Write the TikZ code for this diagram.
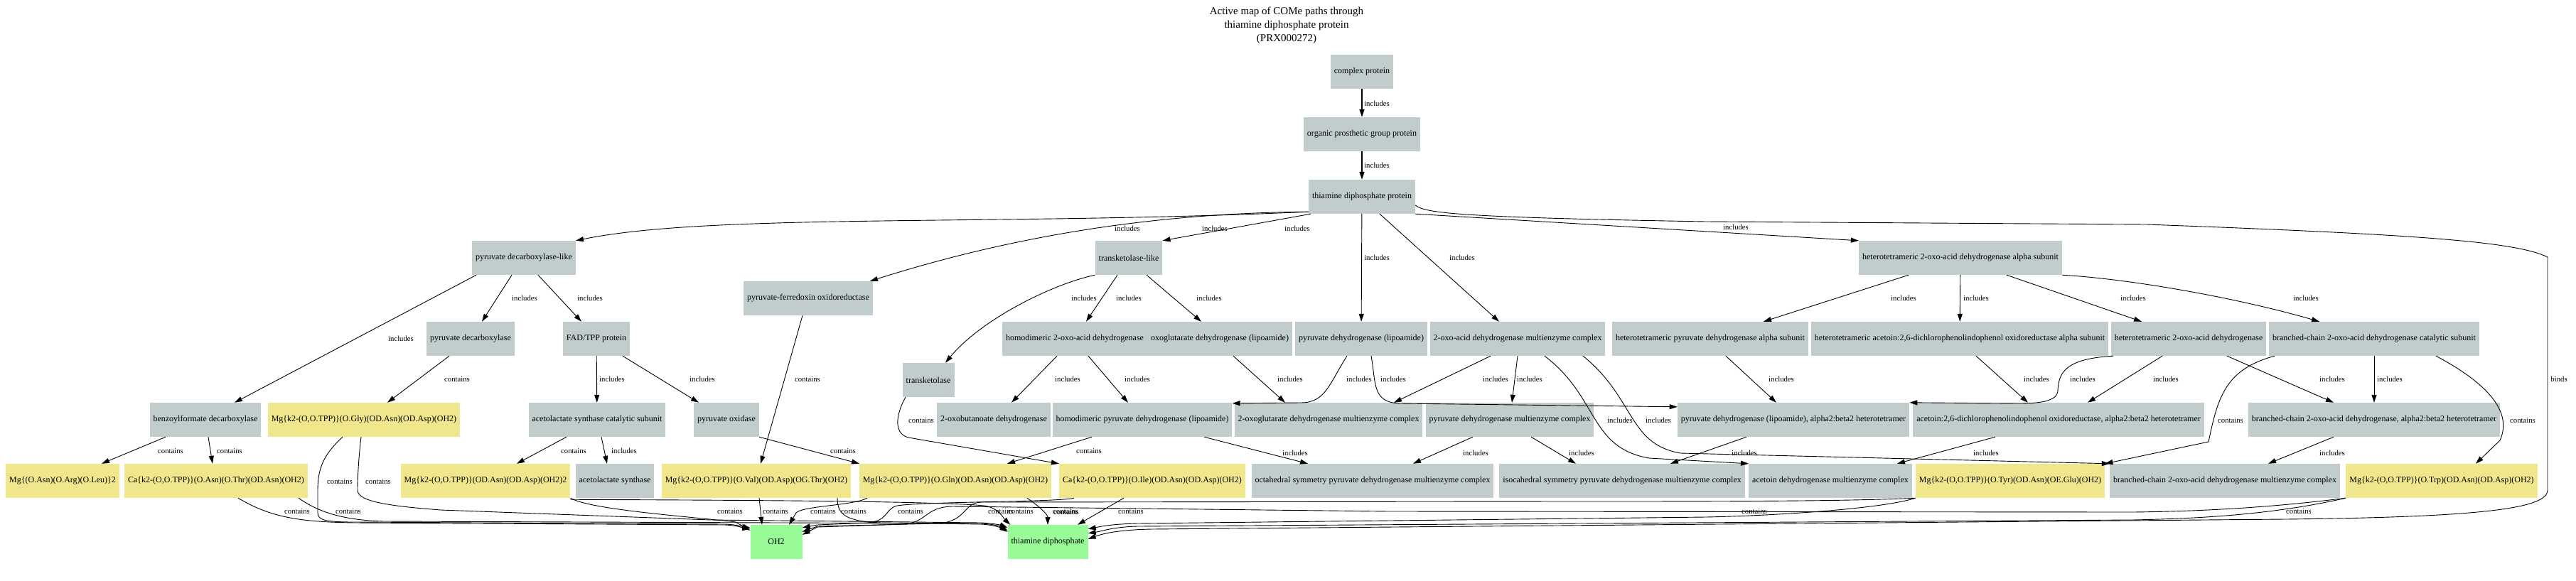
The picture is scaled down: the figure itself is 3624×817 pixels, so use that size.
\documentclass[tikz,border=0pt]{standalone}
\usepackage{fontspec}
\setmainfont{Liberation Serif}
\usetikzlibrary{arrows.meta}
\definecolor{protgray}{HTML}{C1CDCD}
\definecolor{sitekhaki}{HTML}{F0E68C}
\definecolor{ligreen}{HTML}{98FB98}

\begin{document}
\begin{tikzpicture}[x=1pt, y=-1pt,
  prot/.style = {fill=protgray, minimum height=48pt, minimum width=73pt, inner xsep=5pt, font=\fontsize{12}{14}\selectfont},
  site/.style = {prot, fill=sitekhaki},
  lig/.style = {prot, fill=ligreen},
  inc/.style = {-{Triangle[length=11pt,width=7pt]}, line width=0.9pt},
  lbl/.style = {font=\fontsize{10.7}{12}\selectfont, inner sep=0pt}]

\useasboundingbox (0,0) rectangle (3624,817);

\node[align=center, font=\fontsize{15}{19}\selectfont] (title) at (1810,36) {Active map of COMe paths through\\thiamine diphosphate protein\\(PRX000272)};

\node[prot] (cp) at (1916,101) {complex protein};
\node[prot] (opgp) at (1916,189) {organic prosthetic group protein};
\node[prot] (tdpp) at (1916,277) {thiamine diphosphate protein};

\node[prot] (pdcl) at (737,363) {pyruvate decarboxylase-like};
\node[prot] (tkl) at (1588,363) {transketolase-like};
\node[prot] (hoda) at (2758,363) {heterotetrameric 2-oxo-acid dehydrogenase alpha subunit};
\node[prot] (pfor) at (1137,420) {pyruvate-ferredoxin oxidoreductase};

\node[prot] (pdc) at (662,477) {pyruvate decarboxylase};
\node[prot] (fad) at (839,477) {FAD/TPP protein};
\node[prot] (hoad) at (1512,477) {homodimeric 2-oxo-acid dehydrogenase};
\node[prot] (ogdl) at (1716,477) {oxoglutarate dehydrogenase (lipoamide)};
\node[prot] (pdhl) at (1915,477) {pyruvate dehydrogenase (lipoamide)};
\node[prot] (oamc) at (2135,477) {2-oxo-acid dehydrogenase multienzyme complex};
\node[prot] (hpda) at (2406,477) {heterotetrameric pyruvate dehydrogenase alpha subunit};
\node[prot] (haca) at (2757,477) {heterotetrameric acetoin:2,6-dichlorophenolindophenol oxidoreductase alpha subunit};
\node[prot] (hod) at (3079,477) {heterotetrameric 2-oxo-acid dehydrogenase};
\node[prot] (bccs) at (3340,477) {branched-chain 2-oxo-acid dehydrogenase catalytic subunit};
\node[prot] (tk) at (1306,535) {transketolase};

\node[prot] (bfd) at (289,591) {benzoylformate decarboxylase};
\node[site] (mggly) at (512,591) {Mg\{k2-(O,O.TPP)\}(O.Gly)(OD.Asn)(OD.Asp)(OH2)};
\node[prot] (alscs) at (840,591) {acetolactate synthase catalytic subunit};
\node[prot] (pox) at (1022,591) {pyruvate oxidase};
\node[prot] (obdh) at (1398,591) {2-oxobutanoate dehydrogenase};
\node[prot] (hpdh) at (1607,591) {homodimeric pyruvate dehydrogenase (lipoamide)};
\node[prot] (ogmc) at (1869,591) {2-oxoglutarate dehydrogenase multienzyme complex};
\node[prot] (pdmc) at (2124,591) {pyruvate dehydrogenase multienzyme complex};
\node[prot] (pdab) at (2523,591) {pyruvate dehydrogenase (lipoamide), alpha2:beta2 heterotetramer};
\node[prot] (acab) at (2896,591) {acetoin:2,6-dichlorophenolindophenol oxidoreductase, alpha2:beta2 heterotetramer};
\node[prot] (bcab) at (3340,591) {branched-chain 2-oxo-acid dehydrogenase, alpha2:beta2 heterotetramer};

\node[site] (mgaal) at (88,677) {Mg\{(O.Asn)(O.Arg)(O.Leu)\}2};
\node[site] (cathr) at (304,677) {Ca\{k2-(O,O.TPP)\}(O.Asn)(O.Thr)(OD.Asn)(OH2)};
\node[site] (mgoh) at (683,677) {Mg\{k2-(O,O.TPP)\}(OD.Asn)(OD.Asp)(OH2)2};
\node[prot] (als) at (865,677) {acetolactate synthase};
\node[site] (mgval) at (1064,677) {Mg\{k2-(O,O.TPP)\}(O.Val)(OD.Asp)(OG.Thr)(OH2)};
\node[site] (mggln) at (1344,677) {Mg\{k2-(O,O.TPP)\}(O.Gln)(OD.Asn)(OD.Asp)(OH2)};
\node[site] (caile) at (1621,677) {Ca\{k2-(O,O.TPP)\}(O.Ile)(OD.Asn)(OD.Asp)(OH2)};
\node[prot] (ochp) at (1931,677) {octahedral symmetry pyruvate dehydrogenase multienzyme complex};
\node[prot] (icop) at (2282,677) {isocahedral symmetry pyruvate dehydrogenase multienzyme complex};
\node[prot] (adhmc) at (2575,677) {acetoin dehydrogenase multienzyme complex};
\node[site] (mgtyr) at (2828,677) {Mg\{k2-(O,O.TPP)\}(O.Tyr)(OD.Asn)(OE.Glu)(OH2)};
\node[prot] (bcmc) at (3130,677) {branched-chain 2-oxo-acid dehydrogenase multienzyme complex};
\node[site] (mgtrp) at (3435,677) {Mg\{k2-(O,O.TPP)\}(O.Trp)(OD.Asn)(OD.Asp)(OH2)};

\node[lig] (oh2) at (1092,763) {OH2};
\node[lig] (tdp) at (1474,763) {thiamine diphosphate};

\draw[inc, line width=1.5pt] (cp) -- (opgp) node[lbl] at (1937,146) {includes};
\draw[inc, line width=1.5pt] (opgp) -- (tdpp) node[lbl] at (1937,233) {includes};

\draw[inc] ([yshift=3pt]tdpp.south west) .. controls (1400,318) and (1000,300) .. (pdcl.north east) node[lbl] at (1825,322) {includes};
\draw[inc] ([yshift=3pt]tdpp.south west) .. controls (1600,300) and (1400,340) .. ([xshift=-4pt]pfor.north east) node[lbl] at (1586,322) {includes};
\draw[inc] ([xshift=3pt]tdpp.south west) -- (tkl.north east) node[lbl] at (1709,322) {includes};
\draw[inc] (tdpp) -- (pdhl) node[lbl] at (1937,363) {includes};
\draw[inc] ([xshift=25pt]tdpp.south) -- ([xshift=-26pt]oamc.north) node[lbl] at (2057,363) {includes};
\draw[inc] (tdpp.south east) -- (hoda.north west) node[lbl] at (2442,320) {includes};
\draw[inc] ([yshift=-12pt]tdpp.east) .. controls (2005,300) and (2050,306) .. (2400,312) -- (3020,316) .. controls (3400,330) and (3540,340) .. (3584,362) -- (3584,690) .. controls (3584,715) and (3500,728) .. (3215,731) -- (1620,745) .. controls (1570,746) and (1550,752) .. ([yshift=-20pt]tdp.north east) node[lbl, anchor=west] at (3588,534) {binds};

\draw[inc] ([xshift=-67pt]pdcl.south) -- ([xshift=41pt]bfd.north) node[lbl] at (564,477) {includes};
\draw[inc] ([xshift=-17pt]pdcl.south) -- ([xshift=16pt]pdc.north) node[lbl] at (738,420) {includes};
\draw[inc] ([xshift=20pt]pdcl.south) -- ([xshift=-21pt]fad.north) node[lbl] at (830,420) {includes};
\draw[inc] ([xshift=-30pt]pdc.south) -- ([xshift=33pt]mggly.north) node[lbl] at (643,534) {contains};
\draw[inc] ([xshift=-56pt]bfd.south) -- ([xshift=55pt]mgaal.north) node[lbl] at (240,635) {contains};
\draw[inc] ([xshift=4pt]bfd.south) -- ([xshift=-5pt]cathr.north) node[lbl] at (323,635) {contains};
\draw[inc] (fad) -- (alscs) node[lbl] at (861,534) {includes};
\draw[inc] ([xshift=37pt]fad.south) -- ([xshift=-39pt]pox.north) node[lbl] at (988,534) {includes};
\draw[inc] ([xshift=-43pt]alscs.south) -- ([xshift=44pt]mgoh.north) node[lbl] at (807,635) {contains};
\draw[inc] ([xshift=6pt]alscs.south) -- ([xshift=-11pt]als.north) node[lbl] at (878,635) {includes};
\draw[inc] (pox.south east) -- ([xshift=-135pt]mggln.north) node[lbl] at (1186,635) {contains};
\draw[inc] ([xshift=-8pt]pfor.south) -- ([xshift=6pt]mgval.north) node[lbl] at (1136,534) {contains};

\draw[inc] (tkl.south west) .. controls (1480,400) and (1380,450) .. ([xshift=24pt]tk.north) node[lbl] at (1525,420) {includes};
\draw[inc] ([xshift=-16pt]tkl.south) -- ([xshift=16pt]hoad.north) node[lbl] at (1588,420) {includes};
\draw[inc] ([xshift=25pt]tkl.south) -- ([xshift=-26pt]ogdl.north) node[lbl] at (1701,420) {includes};
\draw[inc] ([xshift=-32pt]tk.south) .. controls (1262,580) and (1255,610) .. (1278,616) -- (caile.north west) node[lbl] at (1296,592) {contains};
\draw[inc] ([xshift=-25pt]hoad.south) -- ([xshift=25pt]obdh.north) node[lbl] at (1502,534) {includes};
\draw[inc] ([xshift=19pt]hoad.south) -- ([xshift=-20pt]hpdh.north) node[lbl] at (1600,534) {includes};
\draw[inc] ([xshift=19pt]ogdl.south) -- ([xshift=-61pt]ogmc.north) node[lbl] at (1815,534) {includes};
\draw[inc] ([xshift=-20pt]pdhl.south) .. controls (1870,540) and (1865,567) .. (1830,567) -- ([yshift=-1pt]hpdh.north east) node[lbl] at (1912,534) {includes};
\draw[inc] ([xshift=14pt]pdhl.south) .. controls (1936,540) and (1930,567) .. (1970,568) -- ([yshift=-6pt]pdab.north west) node[lbl] at (1960,534) {includes};

\draw[inc] ([xshift=-38pt]oamc.south) -- ([xshift=92pt]ogmc.north) node[lbl] at (2104,534) {includes};
\draw[inc] (oamc.south) -- ([xshift=3pt]pdmc.north) node[lbl] at (2152,534) {includes};
\draw[inc] ([xshift=38pt]oamc.south) .. controls (2250,560) and (2235,630) .. (2320,645) -- (adhmc.north west) node[lbl] at (2279,592) {includes};
\draw[inc] ([xshift=92pt]oamc.south) .. controls (2300,560) and (2290,625) .. (2364,638) -- (bcmc.north west) node[lbl] at (2333,592) {includes};

\draw[inc] ([xshift=-71pt]hpdh.south) -- ([xshift=73pt]mggln.north) node[lbl] at (1532,635) {contains};
\draw[inc] ([xshift=87pt]hpdh.south) -- ([xshift=-91pt]ochp.north) node[lbl] at (1822,638) {includes};
\draw[inc] ([xshift=-52pt]pdmc.south) -- ([xshift=57pt]ochp.north) node[lbl] at (2076,638) {includes};
\draw[inc] ([xshift=30pt]pdmc.south) -- ([xshift=-65pt]icop.north) node[lbl] at (2225,638) {includes};
\draw[inc] ([xshift=-66pt]pdab.south) -- ([xshift=68pt]icop.north) node[lbl] at (2454,638) {includes};
\draw[inc] ([xshift=22pt]hpda.south) -- ([xshift=-24pt]pdab.north) node[lbl] at (2506,534) {includes};

\draw[inc] ([xshift=-73pt]hoda.south) -- ([xshift=75pt]hpda.north) node[lbl] at (2678,420) {includes};
\draw[inc] (hoda) -- (haca) node[lbl] at (2780,420) {includes};
\draw[inc] ([xshift=65pt]hoda.south) -- ([xshift=-66pt]hod.north) node[lbl] at (3001,420) {includes};
\draw[inc] (hoda.south east) .. controls (3000,393) and (3150,420) .. ([xshift=-77pt]bccs.north) node[lbl] at (3244,420) {includes};
\draw[inc] ([xshift=23pt]haca.south) -- ([xshift=-43pt]acab.north) node[lbl] at (2865,534) {includes};
\draw[inc] ([xshift=-106pt]hod.south) .. controls (2905,505) and (2896,525) .. (2895,550) .. controls (2894,565) and (2870,568) .. (2840,568) -- (pdab.north east) node[lbl] at (2930,534) {includes};
\draw[inc] ([xshift=-37pt]hod.south) -- ([xshift=41pt]acab.north) node[lbl] at (3047,534) {includes};
\draw[inc] ([xshift=54pt]hod.south) -- ([xshift=-57pt]bcab.north) node[lbl] at (3281,534) {includes};
\draw[inc] (bccs) -- (bcab) node[lbl] at (3362,534) {includes};
\draw[inc] ([xshift=87pt]bccs.south) .. controls (3500,540) and (3535,580) .. (3517,620) -- ([xshift=48pt]mgtrp.north) node[lbl] at (3549,592) {contains};
\draw[inc] ([xshift=-140pt]bccs.south) .. controls (3130,520) and (3120,560) .. (3107,622) -- (mgtyr.north east) node[lbl] at (3138,592) {contains};
\draw[inc] ([xshift=-57pt]bcab.south) -- ([xshift=61pt]bcmc.north) node[lbl] at (3281,638) {includes};
\draw[inc] ([xshift=-89pt]acab.south) -- ([xshift=94pt]adhmc.north) node[lbl] at (2794,638) {includes};

\draw[inc] ([xshift=31pt]cathr.south) .. controls (380,728) and (420,735) .. (500,736) -- (1020,739) .. controls (1040,740) and (1048,744) .. ([yshift=-6pt]oh2.north west) node[lbl] at (418,720) {contains};
\draw[inc] ([xshift=116pt]cathr.south) .. controls (440,715) and (470,732) .. (540,734) -- (1380,737) .. controls (1400,738) and (1410,742) .. ([yshift=-8pt]tdp.north west) node[lbl] at (490,720) {contains};
\draw[inc] ([xshift=-30pt]mggly.south) .. controls (455,640) and (447,660) .. (447,690) -- (447,722) .. controls (447,733) and (460,735) .. (500,735) -- (1020,738) .. controls (1040,739) and (1048,742) .. ([yshift=-4pt]oh2.north west) node[lbl] at (478,678) {contains};
\draw[inc] ([xshift=-4pt]mggly.south) .. controls (505,640) and (503,670) .. (503,690) .. controls (503,705) and (540,712) .. (620,718) -- (1000,732) -- (1380,736) .. controls (1400,737) and (1410,740) .. ([yshift=-4pt]tdp.north west) node[lbl] at (532,678) {contains};
\draw[inc] (mgoh.south east) .. controls (830,718) and (980,728) .. (1035,735) -- ([yshift=-8pt]oh2.north west) node[lbl] at (1027,720) {contains};
\draw[inc] ([yshift=-2pt]mgoh.south east) .. controls (900,704) and (1300,704) .. (1385,712) .. controls (1405,715) and (1412,730) .. ([xshift=4pt]tdp.north west) node[lbl] at (1408,720) {contains};
\draw[inc] ([xshift=4pt]mgval.south) -- ([xshift=-20pt]oh2.north) node[lbl] at (1091,720) {contains};
\draw[inc] ([xshift=114pt]mgval.south) .. controls (1178,725) and (1190,734) .. (1240,736) -- (1380,738) .. controls (1400,739) and (1410,744) .. ([yshift=-10pt]tdp.north west) node[lbl] at (1201,720) {contains};
\draw[inc] ([xshift=-124pt]mggln.south) .. controls (1200,712) and (1130,712) .. (1120,722) -- ([xshift=18pt]oh2.north) node[lbl] at (1158,720) {contains};
\draw[inc] ([xshift=101pt]mggln.south) .. controls (1465,715) and (1474,725) .. (tdp.north) node[lbl] at (1499,720) {contains};
\draw[inc] ([xshift=-40pt]caile.south) -- ([xshift=42pt]tdp.north) node[lbl] at (1591,720) {contains};
\draw[inc] ([xshift=-110pt]caile.south) .. controls (1490,707) and (1300,706) .. (1262,712) .. controls (1245,716) and (1250,734) .. (1220,736) -- (1150,739) -- ([yshift=-4pt]oh2.north east) node[lbl] at (1281,720) {contains};
\draw[inc] (mgtyr.south west) .. controls (2600,706) and (2400,706) .. (2200,706) -- (1380,707) .. controls (1355,708) and (1360,734) .. (1320,737) -- (1150,741) -- ([yshift=-10pt]oh2.north east) node[lbl] at (1436,720) {contains};
\draw[inc] (mgtyr.south west) .. controls (2650,716) and (2500,726) .. (2400,728) -- (1600,737) .. controls (1560,738) and (1545,742) .. ([yshift=-6pt]tdp.north east) node[lbl] at (2468,720) {contains};
\draw[inc] (mgtrp.south west) .. controls (3200,714) and (3100,720) .. (3000,721) -- (1954,720) -- (1340,713) .. controls (1300,714) and (1305,736) .. (1270,738) -- (1150,742) -- ([yshift=-14pt]oh2.north east) node[lbl] at (1500,721) {contains};
\draw[inc] (mgtrp.south west) .. controls (3200,724) and (3100,730) .. (3000,732) -- (1600,741) .. controls (1565,742) and (1550,748) .. ([yshift=-12pt]tdp.north east) node[lbl] at (3234,720) {contains};
\end{tikzpicture}
\end{document}
